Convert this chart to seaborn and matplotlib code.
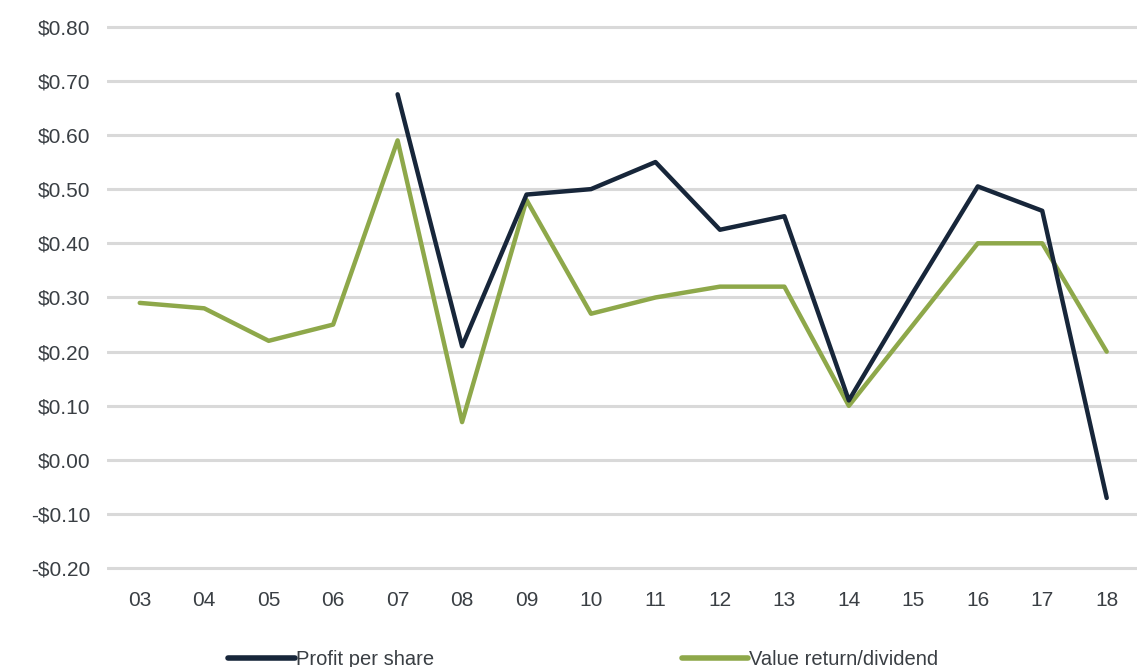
import numpy as np
import pandas as pd
import matplotlib
matplotlib.use("Agg")
import matplotlib.pyplot as plt
import seaborn as sns
from matplotlib.lines import Line2D

years = ["03", "04", "05", "06", "07", "08", "09", "10", "11", "12", "13", "14", "15", "16", "17", "18"]
profit_per_share = [np.nan, np.nan, np.nan, np.nan, 0.675, 0.21, 0.49, 0.50, 0.55, 0.425, 0.45, 0.11, 0.31, 0.505, 0.46, -0.07]
value_return = [0.29, 0.28, 0.22, 0.25, 0.59, 0.07, 0.48, 0.27, 0.30, 0.32, 0.32, 0.10, 0.25, 0.40, 0.40, 0.20]
series_names = ["Profit per share", "Value return/dividend"]
y_ticks = [-0.2, -0.1, 0.0, 0.1, 0.2, 0.3, 0.4, 0.5, 0.6, 0.7, 0.8]

navy = "#17263a"
green = "#8ea84a"

sns.set_theme(style="white")
plt.rcParams["font.family"] = ["Liberation Sans", "DejaVu Sans"]

df = pd.DataFrame({
    "idx": list(range(len(years))) * 2,
    "value": profit_per_share + value_return,
    "series": [series_names[0]] * len(years) + [series_names[1]] * len(years),
}).dropna()

fig = plt.figure(figsize=(11.37, 6.67), dpi=100)
ax = fig.add_axes([0.094, 0.143, 0.906, 0.822])

for y in y_ticks:
    ax.axhline(y, color="#d9d9d9", lw=2.2, zorder=0)

sns.lineplot(data=df, x="idx", y="value", hue="series",
             palette={series_names[0]: navy, series_names[1]: green},
             hue_order=[series_names[1], series_names[0]],
             linewidth=3.2, ax=ax, legend=False, sort=True)

ax.set_xlim(-0.51, 15.47)
ax.set_ylim(-0.206, 0.806)
ax.set_xticks(range(len(years)))
ax.set_xticklabels(years)
ax.set_yticks(y_ticks)
ax.set_yticklabels([f"-${abs(v):.2f}" if v < 0 else f"${v:.2f}" for v in y_ticks])
ax.tick_params(axis="both", length=0, labelsize=15, colors="#3a3f44")
ax.tick_params(axis="x", pad=14)
ax.tick_params(axis="y", pad=12)
ax.set_xlabel("")
ax.set_ylabel("")
for s in ax.spines.values():
    s.set_visible(False)

handles = [Line2D([0], [0], color=navy, lw=4), Line2D([0], [0], color=green, lw=4)]
fig.legend(handles, series_names, loc="lower left", bbox_to_anchor=(0.185, -0.03),
           ncol=2, frameon=False, fontsize=14.5, handlelength=3.3, handletextpad=0.05,
           columnspacing=12.3, labelcolor="#3a3f44")

fig.savefig("out.png", dpi=100, facecolor="white")
